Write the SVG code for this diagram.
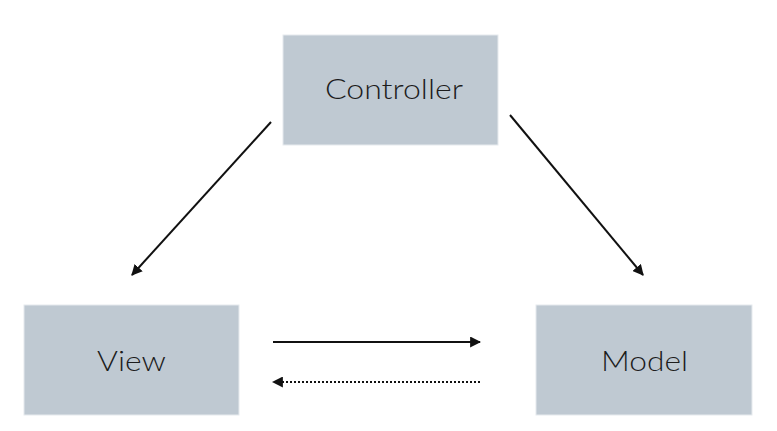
<svg xmlns="http://www.w3.org/2000/svg" width="777" height="431" viewBox="0 0 777 431">
  <style>
    .box { fill: #bfc9d2; stroke: #e6eaee; stroke-width: 1; }
    .label { font-family: "Lato", "Open Sans", "Liberation Sans", sans-serif; font-size: 27px; font-weight: 300; fill: #1c1c1c; text-anchor: middle; }
    .edge { stroke: #111; stroke-width: 2; fill: none; }
    .dotted { stroke: #111; stroke-width: 2; fill: none; stroke-dasharray: 2 2; }
  </style>
  <defs>
    <marker id="arrow" viewBox="0 0 10 10" refX="9" refY="5" markerWidth="5.5" markerHeight="5.5" markerUnits="strokeWidth" orient="auto">
      <path d="M0,0 L10,5 L0,10 z" fill="#111"/>
    </marker>
  </defs>
  <rect width="777" height="431" fill="#ffffff"/>
  <g id="controller">
    <rect class="box" x="283" y="35" width="215" height="110"/>
    <text class="label" x="394" y="99" textLength="138" lengthAdjust="spacingAndGlyphs">Controller</text>
  </g>
  <g id="view">
    <rect class="box" x="24" y="305" width="215" height="110"/>
    <text class="label" x="131.5" y="371" textLength="69" lengthAdjust="spacingAndGlyphs">View</text>
  </g>
  <g id="model">
    <rect class="box" x="536" y="305" width="216" height="110"/>
    <text class="label" x="644.5" y="371" textLength="87" lengthAdjust="spacingAndGlyphs">Model</text>
  </g>
  <g id="connectors">
    <line class="edge" x1="271" y1="122" x2="132" y2="275" marker-end="url(#arrow)"/>
    <line class="edge" x1="510" y1="115" x2="643" y2="275" marker-end="url(#arrow)"/>
    <line class="edge" x1="273" y1="342" x2="480" y2="342" marker-end="url(#arrow)"/>
    <line class="dotted" x1="480" y1="382" x2="273" y2="382" marker-end="url(#arrow)"/>
  </g>
</svg>
